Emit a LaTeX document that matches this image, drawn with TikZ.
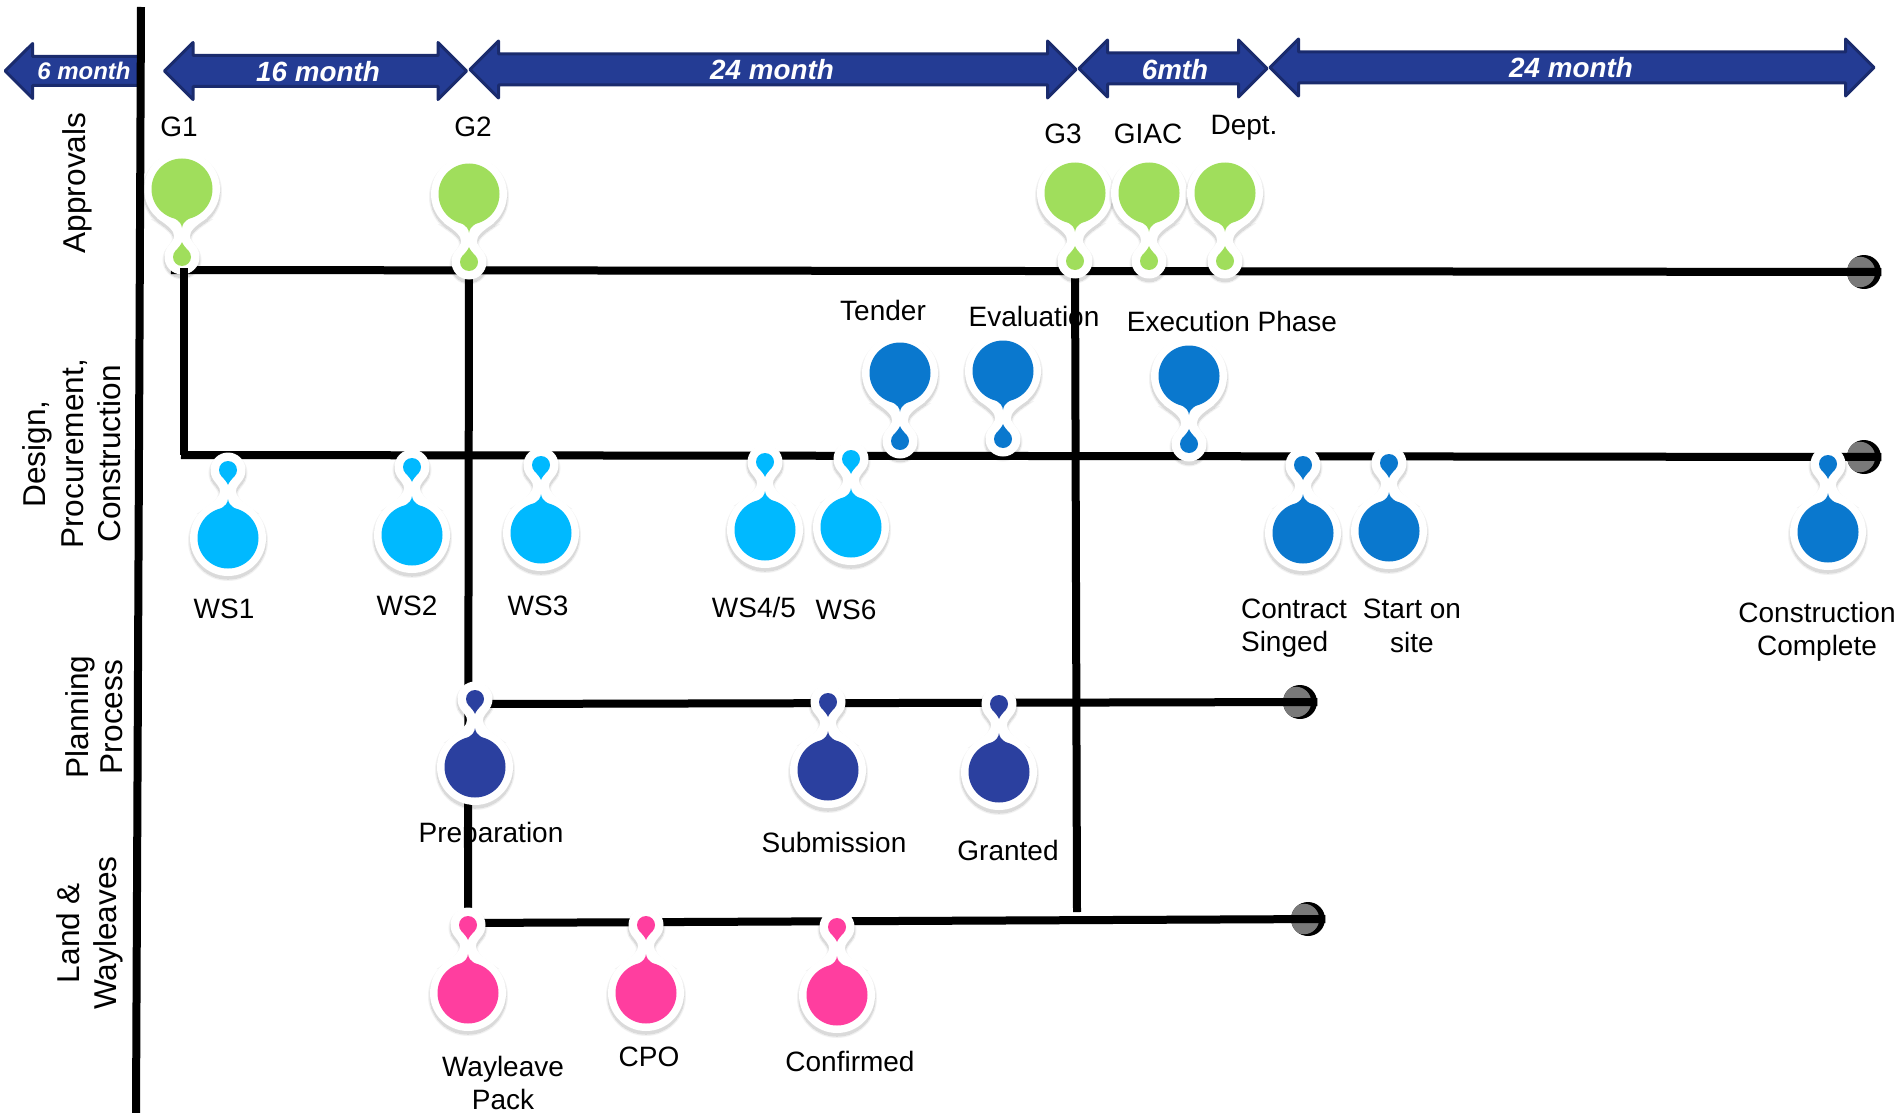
\documentclass[tikz,border=0pt]{standalone}
\usepackage{fontspec}
\setmainfont{Liberation Sans}
\usetikzlibrary{shapes.arrows}
\usetikzlibrary{positioning,calc}
\pgfdeclarelayer{background}
\pgfsetlayers{background,main}

\definecolor{pingreen}{HTML}{A0DE5C}
\definecolor{pinsky}{HTML}{00B9FF}
\definecolor{pinblue}{HTML}{0A78CE}
\definecolor{pinnavy}{HTML}{2B409F}
\definecolor{pinpink}{HTML}{FF3E9F}
\definecolor{arrowfill}{HTML}{243C94}
\definecolor{arrowedge}{HTML}{1A2B6D}

\tikzset{
   lbl/.style={font=\fontsize{14}{16.7}\selectfont, inner sep=0pt, align=center},
   sidelbl/.style={font=\fontsize{15.8}{18.8}\selectfont, inner sep=0pt, align=center, rotate=90},
   spanlbl/.style={font=\fontsize{13.9}{16}\selectfont\bfseries\itshape, text=white, inner sep=0pt},
   spanboth/.style={double arrow, double arrow tip angle=90, double arrow head extend=6.5pt,
      double arrow head indent=0pt, inner xsep=0pt, inner ysep=7pt,
      fill=arrowfill, draw=arrowedge, line width=1.5pt, line join=round},
   spanleft/.style={single arrow, single arrow tip angle=90, single arrow head extend=6.5pt,
      single arrow head indent=0pt, inner xsep=0pt, inner ysep=6.5pt, shape border rotate=180,
      fill=arrowfill, draw=arrowedge, line width=1.5pt, line join=round},
   track/.style={draw=black, line width=4pt},
   trackshade/.style={draw=black, opacity=.12, line width=4pt, yshift=-1.5pt},
   endcap/.style={circle, minimum size=17pt, inner sep=0pt, fill=black,
      path picture={\fill[gray!95!black] ($(path picture bounding box.center)+(-2pt,0pt)$) circle (7.6pt);}}
}

% white outline round a pin, big circle at the origin
\newcommand{\pinblob}{%
   \path (0,0) circle (38);
   \path (0,68) circle (17.5);
   \path (-25,29) .. controls (-12,38) and (-8,42) .. (-8,47)
      .. controls (-8,51) and (-11,53) .. (-14,58) -- (14,58)
      .. controls (11,53) and (8,51) .. (8,47)
      .. controls (8,42) and (12,38) .. (25,29) -- cycle;
}

\begin{document}
\begin{tikzpicture}[x=.5pt,y=-.5pt]
   \useasboundingbox (0,0) rectangle (1901,1113);

   % time spans
   \node[spanleft, minimum height=67.5pt, anchor=tip] (span0) at (3,71) {};
   \node[spanboth, minimum height=151pt]  (span1) at (315.5,71) {};
   \node[spanboth, minimum height=303pt]  (span2) at (773,69.5) {};
   \node[spanboth, minimum height=94pt]   (span3) at (1173,68.5) {};
   \node[spanboth, minimum height=302pt]  (span4) at (1572,67.5) {};

   \node[spanlbl, font=\fontsize{12}{14}\selectfont\bfseries\itshape] (span0lbl) at (84,71) {6 month};
   \node[spanlbl] (span1lbl) at (318,72) {16 month};
   \node[spanlbl] (span2lbl) at (772,70) {24 month};
   \node[spanlbl] (span3lbl) at (1175,70) {6mth};
   \node[spanlbl] (span4lbl) at (1571,68) {24 month};

   % pins, small drop on the track
   \foreach \pinname/\px/\py/\pincol/\pinrot in {
      g1/182/189/pingreen/0,     g2/469/194/pingreen/0,
      g3/1075/193/pingreen/0,    giac/1149/193/pingreen/0,
      dept/1225/193/pingreen/0,
      tender/900/373/pinblue/0,  evaluation/1003/371/pinblue/0,
      execution/1189/376/pinblue/0,
      ws1/228/538/pinsky/180,    ws2/412/535/pinsky/180,
      ws3/541/533/pinsky/180,    ws45/765/530/pinsky/180,
      ws6/851/527/pinsky/180,
      contract/1303/533/pinblue/180, start/1389/531/pinblue/180,
      complete/1828/532/pinblue/180,
      preparation/475/767/pinnavy/180, submission/828/770/pinnavy/180,
      granted/999/772/pinnavy/180,
      wayleave/468/993/pinpink/180,    cpo/646/993/pinpink/180,
      confirmed/837/995/pinpink/180} {
      \coordinate (\pinname) at (\px,\py);
      % soft shadow
      \foreach \shadewd in {0pt,1pt,2pt} {
         \begin{scope}[shift={(\px,\py)}, yshift=-1.5pt, rotate=\pinrot,
               transparency group, opacity=.05,
               every path/.style={fill=black, draw=black, line width=\shadewd}]
            \pinblob
         \end{scope}
      }
      \begin{scope}[shift={(\px,\py)}, rotate=\pinrot]
         \begin{scope}[every path/.style={fill=white}]
            \pinblob
         \end{scope}
         \fill[\pincol] (0,0) circle (30.5);
         \fill[\pincol] (0,39) .. controls (-0.5,35) and (-2,32.5) .. (-8,29)
            -- (8,29) .. controls (2,32.5) and (0.5,35) .. (0,39) -- cycle;
         \fill[\pincol] (0,68) circle (9);
         \fill[\pincol] (0,53) .. controls (-1,56) and (-4,59) .. (-7,62.5)
            -- (7,62.5) .. controls (4,59) and (1,56) .. (0,53) -- cycle;
         \coordinate (\pinname-tip) at (0,68);
      \end{scope}
   }

   \begin{pgfonlayer}{background}
      % labels
      \node[sidelbl] (approvals) at (77,183)  {Approvals};
      \node[sidelbl] (design)    at (72,454)  {Design,\\Procurement,\\Construction};
      \node[sidelbl, font=\fontsize{15.8}{17}\selectfont] (planning)  at (94,717)  {Planning\\Process};
      \node[sidelbl] (land)      at (90,933)  {Land \&\\Wayleaves};

      \node[lbl] (g1lbl)   at (179,127)  {G1};
      \node[lbl] (g2lbl)   at (473,127)  {G2};
      \node[lbl] (g3lbl)   at (1063,134) {G3};
      \node[lbl] (giaclbl) at (1148,134) {GIAC};
      \node[lbl] (deptlbl) at (1244,128) {Dept.};

      \node[lbl] (tenderlbl)     at (883,310)  {Tender};
      \node[lbl] (evaluationlbl) at (1034,316) {Evaluation};
      \node[lbl] (executionlbl)  at (1232,321) {Execution Phase};

      \node[lbl] (ws1lbl)  at (224,609) {WS1};
      \node[lbl] (ws2lbl)  at (407,606) {WS2};
      \node[lbl] (ws3lbl)  at (538,606) {WS3};
      \node[lbl] (ws45lbl) at (754,607) {WS4/5};
      \node[lbl] (ws6lbl)  at (846,610) {WS6};

      \node[lbl, align=left] (contractlbl) at (1294,628) {Contract\\Singed};
      \node[lbl] (startlbl)    at (1412,626) {Start on\\site};
      \node[lbl] (completelbl) at (1817,632) {Construction\\Complete};

      \node[lbl] (preparationlbl) at (491,835)  {Preparation};
      \node[lbl] (submissionlbl)  at (834,842)  {Submission};
      \node[lbl] (grantedlbl)     at (1008,850) {Granted};

      \node[lbl] (wayleavelbl)  at (503,1083) {Wayleave\\Pack};
      \node[lbl] (cpolbl)       at (649,1057) {CPO};
      \node[lbl] (confirmedlbl) at (850,1061) {Confirmed};

      % track ends
      \node[endcap] (approvalsend) at (1864,272) {};
      \node[endcap] (designend)    at (1864,457) {};
      \node[endcap] (planningend)  at (1300,702) {};
      \node[endcap] (landend)      at (1308,919) {};

      \coordinate (axistop)       at (141,7);
      \coordinate (axisfoot)      at (136,1113);
      \coordinate (approvalsfrom) at (171,270);
      \coordinate (designfrom)    at (181,455);
      \coordinate (planningfrom)  at (475,704);
      \coordinate (landfrom)      at (468,923);
      \coordinate (g1top)         at (184,268);
      \coordinate (g1foot)        at (184,455);
      \coordinate (g3foot)        at (1077,912);

      \draw[trackshade] (approvalsfrom) -- (approvalsend.east);
      \draw[trackshade] (designfrom)    -- (designend.east);
      \draw[trackshade] (planningfrom)  -- (planningend.east);
      \draw[trackshade] (landfrom)      -- (landend.east);

      \draw[track] (approvalsfrom) -- (approvalsend.east);
      \draw[track] (designfrom)    -- (designend.east);
      \draw[track] (planningfrom)  -- (planningend.east);
      \draw[track] (landfrom)      -- (landend.east);

      \draw[track] (g2-tip) -- (landfrom);
      \draw[track] (g3-tip) -- (g3foot);
   \end{pgfonlayer}

   \draw[track] (axistop) -- (axisfoot);
   \draw[track] (g1top) -- (g1foot);
\end{tikzpicture}
\end{document}
